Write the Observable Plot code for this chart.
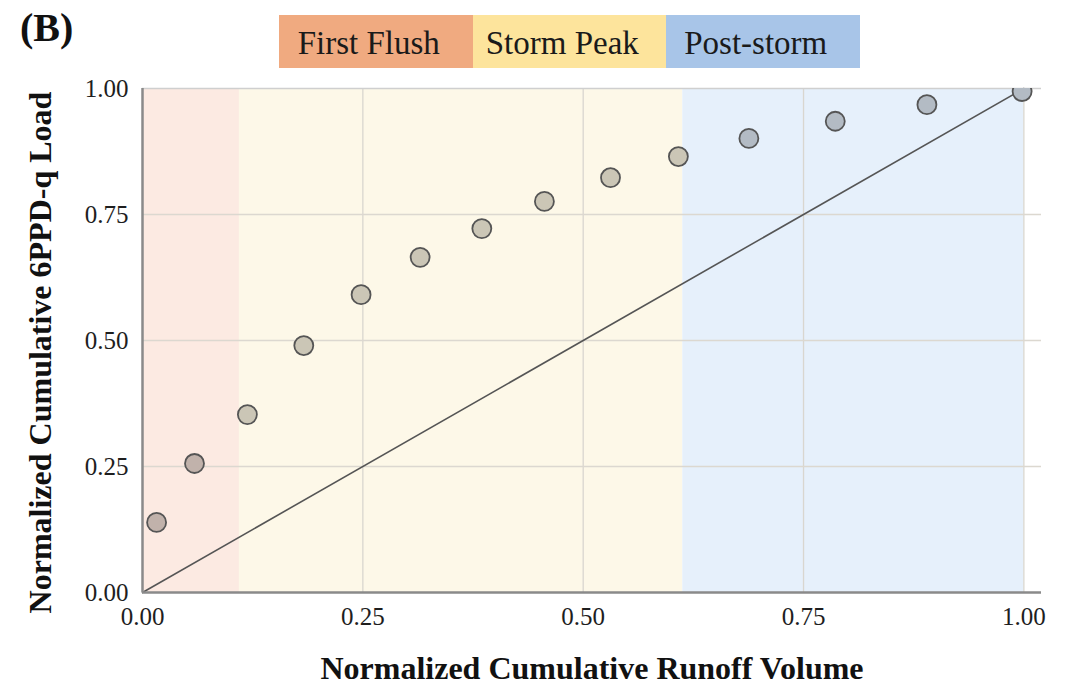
<!DOCTYPE html>
<html>
<head>
<meta charset="utf-8">
<script src="https://cdn.jsdelivr.net/npm/d3@7"></script>
<script src="https://cdn.jsdelivr.net/npm/@observablehq/plot@0.6"></script>
<style>
  html, body { margin: 0; padding: 0; background: #fff; }
  #wrap { position: relative; width: 1076px; height: 694px; font-family: "Liberation Serif", "Times New Roman", serif; }
  #panel { position: absolute; left: 20px; top: 8px; font-size: 40px; font-weight: bold; line-height: 1; color: #111; }
  #legend { position: absolute; left: 279px; top: 15px; display: flex; height: 53px; }
  #legend div { width: 193.5px; height: 53px; display: flex; align-items: center; justify-content: center; font-size: 33px; color: #1a1a1a; box-sizing: border-box; padding-right: 14px; padding-top: 3px; }
  #chart { position: absolute; left: 0; top: 0; }
</style>
</head>
<body>
<div id="wrap">
  <div id="chart"></div>
  <div id="panel">(B)</div>
  <div id="legend"></div>
</div>
<script>
// Data
const runoffVolume = [0.016, 0.059, 0.119, 0.183, 0.248, 0.315, 0.385, 0.456, 0.531, 0.608, 0.688, 0.786, 0.890, 0.998];
const load6PPDq    = [0.139, 0.256, 0.353, 0.490, 0.591, 0.665, 0.722, 0.776, 0.823, 0.865, 0.901, 0.935, 0.968, 0.994];
const pointPhase   = ["First Flush","First Flush","Storm Peak","Storm Peak","Storm Peak","Storm Peak","Storm Peak","Storm Peak","Storm Peak","Storm Peak","Post-storm","Post-storm","Post-storm","Post-storm"];

const phaseNames = ["First Flush", "Storm Peak", "Post-storm"];
const phaseStart = [0, 0.11, 0.613];
const phaseEnd   = [0.11, 0.613, 1.0];

const xTicks = [0, 0.25, 0.5, 0.75, 1.0];
const yTicks = [0, 0.25, 0.5, 0.75, 1.0];
const parityLine = [0, 1];

const xTitle = "Normalized Cumulative Runoff Volume";
const yTitle = "Normalized Cumulative 6PPD-q Load";

// Styles
const bandFill   = {"First Flush": "#fceae2", "Storm Peak": "#fdf8e8", "Post-storm": "#e6f0fb"};
const legendFill = {"First Flush": "#f0aa80", "Storm Peak": "#fde49c", "Post-storm": "#a8c5e8"};
const dotFill    = {"First Flush": "#c1b2ab", "Storm Peak": "#cbc6b6", "Post-storm": "#b3bbc4"};

const bands = phaseNames.map((p, i) => ({phase: p, x1: phaseStart[i], x2: phaseEnd[i]}));
const points = runoffVolume.map((x, i) => ({x, y: load6PPDq[i], phase: pointPhase[i]}));

const font = "Liberation Serif, Times New Roman, serif";

const chart = Plot.plot({
  width: 1076,
  height: 694,
  marginLeft: 142,
  marginRight: 35,
  marginTop: 88,
  marginBottom: 102,
  style: {fontFamily: font, fontSize: "25px", color: "#222", background: "transparent"},
  x: {domain: [0, 1.02]},
  y: {domain: [0, 1]},
  marks: [
    Plot.rect(bands, {x1: "x1", x2: "x2", y1: 0, y2: 1, fill: d => bandFill[d.phase]}),
    Plot.gridX(xTicks.slice(1), {stroke: "#d9d6cf", strokeOpacity: 1, strokeWidth: 1.3}),
    Plot.gridY(yTicks.slice(1, 4), {stroke: "#dcd8d0", strokeOpacity: 1, strokeWidth: 1.3}),
    Plot.ruleY([1], {stroke: "#cfcfcf", strokeWidth: 1.3}),
    Plot.line(parityLine, {x: d => d, y: d => d, stroke: "#555", strokeWidth: 1.6}),
    Plot.dot(points, {x: "x", y: "y", r: 9.5, fill: d => dotFill[d.phase], stroke: "#555", strokeWidth: 1.8, clip: true}),
    Plot.ruleX([0], {stroke: "#8a8a8a", strokeWidth: 2.5}),
    Plot.ruleY([0], {stroke: "#8a8a8a", strokeWidth: 2.5}),
    Plot.axisX({ticks: xTicks, tickFormat: d3.format(".2f"), tickSize: 0, tickPadding: 15, label: null, fontSize: 25, fill: "#1e1e1e"}),
    Plot.axisY({ticks: yTicks, tickFormat: d3.format(".2f"), tickSize: 0, tickPadding: 14, label: null, fontSize: 25, fill: "#1e1e1e"}),
    Plot.text([xTitle], {frameAnchor: "bottom", textAnchor: "middle", dy: 86, text: d => d, fontSize: 32, fontWeight: "bold", fontFamily: font, fill: "#111"}),
    Plot.text([yTitle], {frameAnchor: "left", textAnchor: "middle", dx: -102, dy: 12, rotate: -90, text: d => d, fontSize: 32, fontWeight: "bold", fontFamily: font, fill: "#111"})
  ]
});
document.getElementById("chart").appendChild(chart);

const legend = document.getElementById("legend");
phaseNames.forEach(p => {
  const d = document.createElement("div");
  d.style.background = legendFill[p];
  d.textContent = p;
  legend.appendChild(d);
});
</script>
</body>
</html>
